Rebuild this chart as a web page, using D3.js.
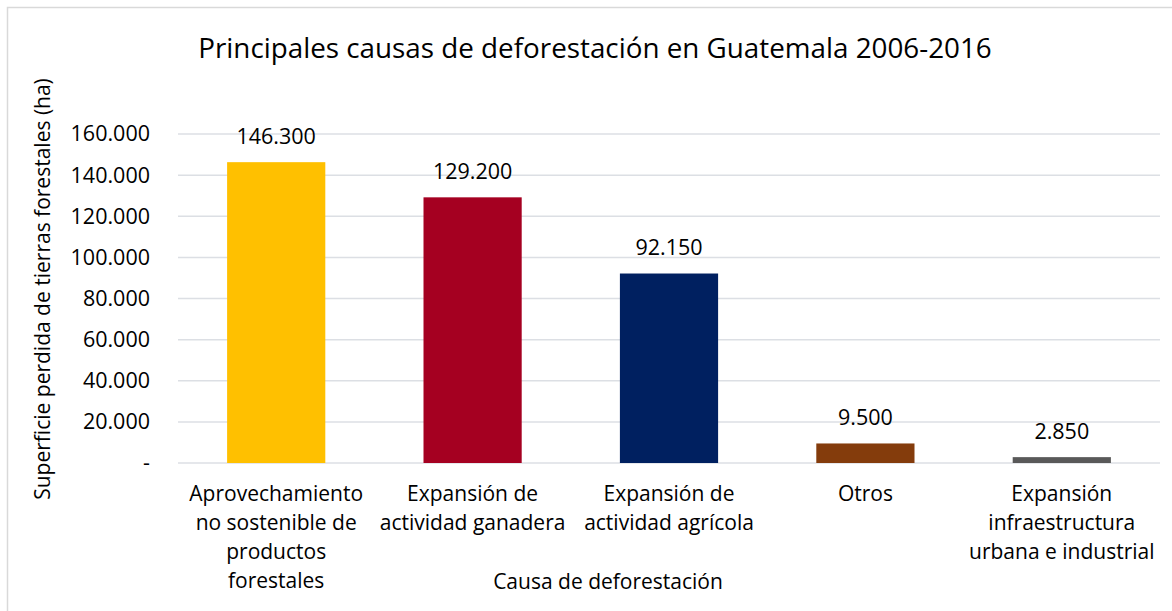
<!DOCTYPE html>
<html>
<head>
<meta charset="utf-8">
<script src="https://cdn.jsdelivr.net/npm/d3@7"></script>
<style>
  html, body { margin: 0; padding: 0; background: #fff; }
  svg { display: block; }
  text { font-family: "Open Sans", "Noto Sans", sans-serif; fill: #000; }
</style>
</head>
<body>
<svg id="chart" width="1172" height="611"></svg>
<script>
const title = "Principales causas de deforestación en Guatemala 2006-2016";
const yTitle = "Superficie perdida de tierras forestales (ha)";
const xTitle = "Causa de deforestación";
const categories = [
  "Aprovechamiento no sostenible de productos forestales",
  "Expansión de actividad ganadera",
  "Expansión de actividad agrícola",
  "Otros",
  "Expansión infraestructura urbana e industrial"
];
const categoryLines = [
  ["Aprovechamiento", "no sostenible de", "productos", "forestales"],
  ["Expansión de", "actividad ganadera"],
  ["Expansión de", "actividad agrícola"],
  ["Otros"],
  ["Expansión", "infraestructura", "urbana e industrial"]
];
const values = [146300, 129200, 92150, 9500, 2850];
const colors = ["#FFC000", "#A50021", "#002060", "#843C0C", "#595959"];
const yTicks = [0, 20000, 40000, 60000, 80000, 100000, 120000, 140000, 160000];

const svg = d3.select("#chart");

const fmt = v => v === 0 ? "-" : d3.format(",")(v).replace(/,/g, ".");

// chart border
svg.append("rect")
  .attr("x", 7.5).attr("y", 7.5)
  .attr("width", 1170).attr("height", 610)
  .attr("fill", "none").attr("stroke", "#d9d9d9").attr("stroke-width", 1.5);

const x = d3.scaleBand().domain(categories).range([178, 1160]).paddingInner(0.5).paddingOuter(0.25);
const y = d3.scaleLinear().domain([0, 160000]).range([463, 134]);

// gridlines
svg.append("g")
  .selectAll("line").data(yTicks).join("line")
  .attr("x1", 178).attr("x2", 1160)
  .attr("y1", d => y(d)).attr("y2", d => y(d))
  .attr("stroke", "#dcdfe4").attr("stroke-width", 1.5);

// y axis labels
const yAxis = d3.axisLeft(y).tickValues(yTicks).tickFormat(fmt).tickSize(0).tickPadding(0);
const gy = svg.append("g").attr("transform", "translate(150,0)").call(yAxis);
gy.select(".domain").remove();
gy.selectAll("text").attr("font-size", 21.5).attr("font-family", "Open Sans").attr("fill", "#000");

// bars
svg.append("g").selectAll("rect").data(values).join("rect")
  .attr("x", (d, i) => x(categories[i]))
  .attr("width", x.bandwidth())
  .attr("y", d => y(d))
  .attr("height", d => y(0) - y(d))
  .attr("fill", (d, i) => colors[i]);

// value labels
svg.append("g").selectAll("text").data(values).join("text")
  .attr("x", (d, i) => x(categories[i]) + x.bandwidth() / 2)
  .attr("y", d => y(d) - 26)
  .attr("dy", "0.35em")
  .attr("text-anchor", "middle")
  .attr("font-size", 21.5)
  .text(fmt);

// category labels
const gx = svg.append("g");
categoryLines.forEach((lines, i) => {
  const cx = x(categories[i]) + x.bandwidth() / 2;
  lines.forEach((ln, j) => {
    gx.append("text")
      .attr("x", cx).attr("y", 494 + j * 29)
      .attr("dy", "0.35em")
      .attr("text-anchor", "middle")
      .attr("font-size", 21)
      .text(ln);
  });
});

// x title
svg.append("text")
  .attr("x", 608).attr("y", 582).attr("dy", "0.35em")
  .attr("text-anchor", "middle").attr("font-size", 21)
  .text(xTitle);

// y title
svg.append("text")
  .attr("transform", "translate(43,289) rotate(-90)")
  .attr("dy", "0.35em")
  .attr("text-anchor", "middle").attr("font-size", 21)
  .text(yTitle);

// title
svg.append("text")
  .attr("x", 595).attr("y", 48).attr("dy", "0.35em")
  .attr("text-anchor", "middle").attr("font-size", 27.8)
  .text(title);
</script>
</body>
</html>
